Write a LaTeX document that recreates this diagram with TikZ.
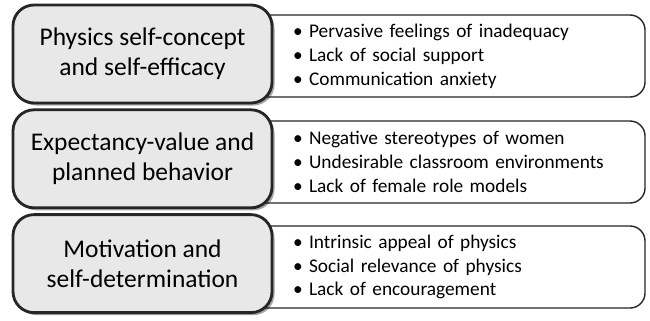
\documentclass[tikz,border=0pt]{standalone}
\usepackage{fontspec}
\setmainfont{Carlito}
\usetikzlibrary{positioning,shadows}

\begin{document}
\begin{tikzpicture}[
    node distance=0.08cm,
    theory/.style={rectangle, rounded corners=0.42cm, draw=black!85, line width=1.6pt,
        fill=black!9, minimum width=5.18cm, minimum height=1.96cm, align=center,
        font=\fontsize{14.5}{17.2}\selectfont,
        drop shadow={shadow xshift=0.05cm, shadow yshift=-0.05cm, opacity=0.35, fill=black}},
    factors/.style={rectangle, rounded corners=0.3cm, draw=black!85, line width=0.8pt,
        fill=white, minimum width=7.9cm, minimum height=1.64cm, text width=7.1cm,
        align=left, inner xsep=0pt, font=\fontsize{11}{13.6}\selectfont}
]
    \useasboundingbox (0,0) rectangle (13,-6.4);

    % white boxes with the listed factors, drawn first so the grey ones sit on top
    \node[factors] (f1) at (8.95,-1.12) {\hspace*{0.46cm}\textbullet\ Pervasive feelings of inadequacy\\
        \hspace*{0.46cm}\textbullet\ Lack of social support\\
        \hspace*{0.46cm}\textbullet\ Communication anxiety};
    \node[factors] (f2) at (8.95,-3.24) {\hspace*{0.46cm}\textbullet\ Negative stereotypes of women\\
        \hspace*{0.46cm}\textbullet\ Undesirable classroom environments\\
        \hspace*{0.46cm}\textbullet\ Lack of female role models};
    \node[factors] (f3) at (8.95,-5.34) {\hspace*{0.46cm}\textbullet\ Intrinsic appeal of physics\\
        \hspace*{0.46cm}\textbullet\ Social relevance of physics\\
        \hspace*{0.46cm}\textbullet\ Lack of encouragement};

    % grey theory boxes
    \node[theory] (t1) at (2.85,-1.08) {Physics self-concept\\and self-efficacy};
    \node[theory] (t2) [below=of t1] {Expectancy-value and\\planned behavior};
    \node[theory] (t3) [below=of t2] {Motivation and\\self-determination};
\end{tikzpicture}
\end{document}
